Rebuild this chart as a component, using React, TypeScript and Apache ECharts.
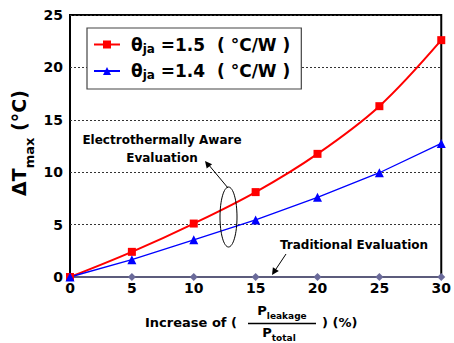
import React, { useEffect, useRef } from "react";
import * as echarts from "echarts";

const xValues = [0, 5, 10, 15, 20, 25, 30];
const red15 = [0, 2.4, 5.1, 8.1, 11.75, 16.3, 22.6];
const blue14 = [0, 1.65, 3.55, 5.45, 7.6, 9.95, 12.75];
const traditional = [0, 0, 0, 0, 0, 0, 0];
const legendNames = ["theta15", "theta14"];
const legendValues = ["1.5", "1.4"];

const FONT = "'DejaVu Sans', 'Liberation Sans', Arial, sans-serif";

export default function App() {
  const ref = useRef<HTMLDivElement>(null);
  useEffect(() => {
    if (!ref.current) return;
    const chart = echarts.init(ref.current, null, { renderer: "svg" });
    const pair = (arr: number[]) => xValues.map((x, i) => [x, arr[i]]);
    const bold = { fontWeight: "bold", fontFamily: FONT };
    const option: any = {
      animation: false,
      backgroundColor: "#fff",
      textStyle: { fontFamily: FONT },
      grid: {
        left: 70,
        right: 11,
        top: 15,
        bottom: 66,
        show: true,
        borderColor: "#000",
        borderWidth: 2,
        backgroundColor: "transparent",
      },
      xAxis: {
        type: "value",
        min: 0,
        max: 30,
        interval: 5,
        axisLine: { show: false },
        axisTick: { show: false },
        splitLine: { show: false },
        axisLabel: { color: "#000", fontSize: 14, ...bold, margin: 4 },
      },
      yAxis: {
        type: "value",
        min: 0,
        max: 25,
        interval: 5,
        axisLine: { show: false },
        axisTick: { show: false },
        splitLine: {
          show: true,
          lineStyle: { color: "#333", type: [2, 2], width: 1 },
        },
        axisLabel: { color: "#000", fontSize: 14, ...bold, margin: 7 },
      },
      legend: {
        data: legendNames,
        orient: "vertical",
        left: 87,
        top: 28,
        itemWidth: 26,
        itemHeight: 10,
        itemGap: 8,
        padding: [8, 11, 8, 6],
        backgroundColor: "#fff",
        borderColor: "#444",
        borderWidth: 1.2,
        borderRadius: 0,
        formatter: (name: string) => {
          const v = legendValues[legendNames.indexOf(name)];
          return `{s| }{a|θ}{b|ja}{a| =${v}  ( °C/W )}`;
        },
        textStyle: {
          fontSize: 17,
          ...bold,
          color: "#000",
          rich: {
            s: { fontSize: 10, width: 6, lineHeight: 20 },
            a: { fontSize: 17, ...bold, color: "#000", lineHeight: 20 },
            b: { fontSize: 12, ...bold, color: "#000", verticalAlign: "bottom", lineHeight: 12 },
          },
        },
      },
      series: [
        {
          name: "theta15",
          type: "line",
          data: pair(red15),
          smooth: 0.35,
          symbol: "rect",
          symbolSize: 8,
          lineStyle: { color: "#ff0000", width: 2 },
          itemStyle: { color: "#ff0000" },
          z: 4,
        },
        {
          name: "theta14",
          type: "line",
          data: pair(blue14),
          symbol: "triangle",
          symbolSize: 9,
          lineStyle: { color: "#0000ff", width: 1.3 },
          itemStyle: { color: "#0000ff" },
          z: 4,
        },
        {
          name: "traditional",
          type: "line",
          data: pair(traditional),
          symbol: "diamond",
          symbolSize: 8,
          lineStyle: { color: "#5c5c7c", width: 2 },
          itemStyle: { color: "#6a6a9a" },
          z: 3,
        },
      ],
      graphic: [
        {
          type: "text",
          x: 19,
          y: 143,
          rotation: Math.PI / 2,
          style: {
            text: "{a|ΔT}{b|max}{a| (°C)}",
            align: "center",
            verticalAlign: "middle",
            rich: {
              a: { fontSize: 19, ...bold, fill: "#000", lineHeight: 34 },
              b: { fontSize: 13, ...bold, fill: "#000", verticalAlign: "bottom", lineHeight: 13 },
            },
          },
        },
        {
          type: "text",
          x: 162,
          y: 149,
          style: {
            text: "Electrothermally Aware\nEvaluation",
            align: "center",
            verticalAlign: "middle",
            fontSize: 12,
            ...bold,
            lineHeight: 18,
            fill: "#000",
          },
        },
        {
          type: "ellipse",
          shape: { cx: 228.5, cy: 217, rx: 8.5, ry: 30 },
          style: { fill: "none", stroke: "#000", lineWidth: 1 },
          z: 10,
        },
        {
          type: "line",
          shape: { x1: 228, y1: 188, x2: 208, y2: 164 },
          style: { stroke: "#000", lineWidth: 1 },
          z: 10,
        },
        {
          type: "polygon",
          shape: { points: [[205, 161], [212.1, 164.2], [206.7, 168.6]] },
          style: { fill: "#000" },
          z: 10,
        },
        {
          type: "text",
          x: 354,
          y: 245,
          style: {
            text: "Traditional Evaluation",
            align: "center",
            verticalAlign: "middle",
            fontSize: 12,
            ...bold,
            fill: "#000",
          },
        },
        {
          type: "line",
          shape: { x1: 286, y1: 254, x2: 274, y2: 272 },
          style: { stroke: "#000", lineWidth: 1 },
          z: 10,
        },
        {
          type: "polygon",
          shape: { points: [[272, 275], [278.8, 271.0], [272.9, 267.2]] },
          style: { fill: "#000" },
          z: 10,
        },
        {
          type: "text",
          x: 145,
          y: 322,
          style: {
            text: "Increase of (",
            align: "left",
            verticalAlign: "middle",
            fontSize: 13,
            ...bold,
            fill: "#000",
          },
        },
        {
          type: "text",
          x: 282,
          y: 310,
          style: {
            text: "{a|P}{b|leakage}",
            align: "center",
            verticalAlign: "middle",
            rich: {
              a: { fontSize: 13, ...bold, fill: "#000", lineHeight: 20 },
              b: { fontSize: 9, ...bold, fill: "#000", verticalAlign: "bottom", lineHeight: 9 },
            },
          },
        },
        {
          type: "line",
          shape: { x1: 248, y1: 323.5, x2: 316, y2: 323.5 },
          style: { stroke: "#000", lineWidth: 1.5 },
        },
        {
          type: "text",
          x: 279,
          y: 332,
          style: {
            text: "{a|P}{b|total}",
            align: "center",
            verticalAlign: "middle",
            rich: {
              a: { fontSize: 13, ...bold, fill: "#000", lineHeight: 20 },
              b: { fontSize: 9, ...bold, fill: "#000", verticalAlign: "bottom", lineHeight: 9 },
            },
          },
        },
        {
          type: "text",
          x: 322,
          y: 322,
          style: {
            text: ") (%)",
            align: "left",
            verticalAlign: "middle",
            fontSize: 13,
            ...bold,
            fill: "#000",
          },
        },
      ],
    };
    chart.setOption(option);
    return () => chart.dispose();
  }, []);
  return (
    <div
      ref={ref}
      style={{ position: "fixed", left: 0, top: 0, width: 454, height: 343 }}
    />
  );
}
